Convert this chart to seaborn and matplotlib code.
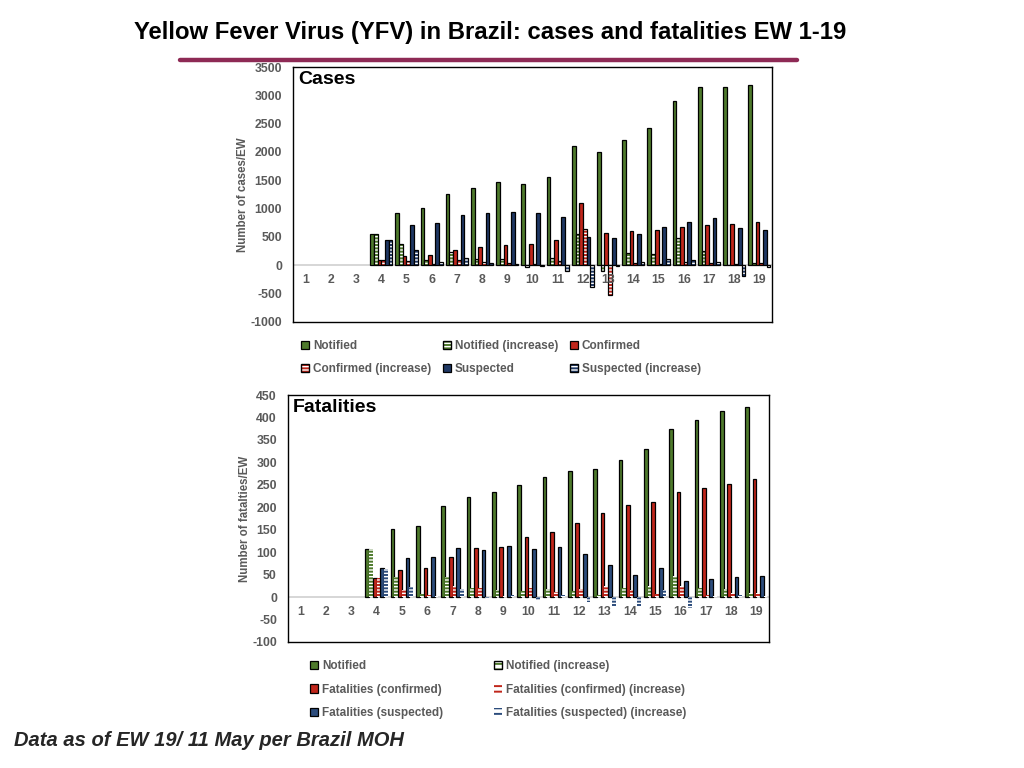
import numpy as np
import pandas as pd
import matplotlib
matplotlib.use("Agg")
import matplotlib.pyplot as plt
import matplotlib.colors as mcolors
import matplotlib.transforms as mtransforms
from matplotlib.patches import Patch
from matplotlib.lines import Line2D
import seaborn as sns

nan = np.nan
weeks = [str(i) for i in range(1, 20)]

# ---- Cases (per epidemiological week) ----
cases_series = ["Notified", "Notified (increase)", "Confirmed",
                "Confirmed (increase)", "Suspected", "Suspected (increase)"]
cases_notified = [nan, nan, nan, 550, 920, 1015, 1257, 1363, 1469, 1434, 1563, 2112, 2006, 2218, 2425, 2903, 3151, 3151, 3186]
cases_notified_inc = [nan, nan, nan, 550, 370, 95, 242, 106, 106, -35, 129, 549, -106, 212, 207, 478, 248, 5, 35]
cases_confirmed = [nan, nan, nan, 88, 160, 177, 265, 325, 360, 378, 448, 1097, 566, 602, 620, 673, 708, 726, 761]
cases_confirmed_inc = [nan, nan, nan, 88, 72, 17, 88, 60, 35, 18, 70, 649, -531, 36, 18, 53, 35, 18, 35]
cases_suspected = [nan, nan, nan, 445, 708, 743, 885, 920, 944, 920, 855, 501, 484, 555, 673, 761, 832, 655, 620]
cases_suspected_inc = [nan, nan, nan, 445, 263, 53, 124, 35, 24, -18, -94, -378, -17, 53, 118, 88, 53, -183, -35]

# ---- Fatalities ----
fat_series = ["Notified", "Notified (increase)", "Fatalities (confirmed)",
              "Fatalities (confirmed) (increase)", "Fatalities (suspected)",
              "Fatalities (suspected) (increase)"]
fat_notified = [nan, nan, nan, 108, 152, 159, 202, 222, 235, 249, 267, 280, 285, 305, 330, 374, 395, 415, 424]
fat_notified_inc = [nan, nan, nan, 108, 45, 7, 45, 20, 15, 13, 17, 13, 5, 20, 25, 47, 20, 18, 10]
fat_confirmed = [nan, nan, nan, 43, 60, 65, 90, 110, 112, 134, 146, 164, 188, 204, 211, 235, 242, 251, 262]
fat_confirmed_inc = [nan, nan, nan, 43, 16, 5, 25, 20, 2, 20, 11, 18, 25, 16, 7, 25, 5, 9, 10]
fat_suspected = [nan, nan, nan, 65, 88, 90, 110, 105, 114, 107, 112, 96, 72, 49, 65, 36, 40, 45, 47]
fat_suspected_inc = [nan, nan, nan, 62, 22, 2, 18, -3, 5, -7, 4, -12, -23, -22, 16, -25, 3, 5, 2]

GREEN = "#4E7A2C"
RED = "#C0261B"
NAVY = "#1F3864"
BLUE2 = "#2C4C7C"
GRAY = "#5A5A5A"
HATCH = "-----"

sns.set_theme(style="white")
plt.rcParams["font.family"] = ["Liberation Sans", "DejaVu Sans"]
plt.rcParams["hatch.linewidth"] = 1.4


def long_df(series_names, arrays):
    rows = []
    for name, arr in zip(series_names, arrays):
        for w, v in zip(weeks, arr):
            rows.append({"week": w, "series": name, "value": v})
    return pd.DataFrame(rows)


def set_hatch(p, color, edge, hatch=HATCH):
    p.set_facecolor("white")
    p.set_edgecolor(edge)
    p.set_hatch(hatch)
    if hasattr(p, "set_hatchcolor"):
        p.set_hatchcolor(color)
    else:
        p._hatch_color = mcolors.to_rgba(color)


fig = plt.figure(figsize=(10.24, 7.68), dpi=100)

# title + rule
fig.text(0.479, 1 - 32 / 768, "Yellow Fever Virus (YFV) in Brazil: cases and fatalities EW 1-19",
         ha="center", va="center", fontsize=17.2, fontweight="bold", color="black")
fig.add_artist(Line2D([180 / 1024, 797 / 1024], [1 - 60 / 768] * 2, color="#8E2A55", lw=3.2))
fig.text(14 / 1024, 1 - 741 / 768, "Data as of EW 19/ 11 May per Brazil MOH",
         ha="left", va="center", fontsize=14.5, fontweight="bold", fontstyle="italic")


def make_panel(rect, series_names, arrays, colors, hatched, hatch_edge, ylim, yticks,
               ylabel, panel_title):
    ax = fig.add_axes(rect)
    df = long_df(series_names, arrays)
    pal = {n: c for n, c in zip(series_names, colors)}
    sns.barplot(data=df, x="week", y="value", hue="series", order=weeks,
                hue_order=series_names, palette=pal, width=0.88, dodge=True,
                errorbar=None, saturation=1, legend=False, ax=ax,
                edgecolor="black", linewidth=0.9)
    for cont, name, c, h in zip(ax.containers, series_names, colors, hatched):
        for p in cont.patches:
            if h:
                set_hatch(p, c, hatch_edge[name])
    ax.axhline(0, color="#cfcfcf", lw=1.2, zorder=0.5)
    ax.set_ylim(*ylim)
    ax.set_xlim(-0.5, len(weeks) - 0.5)
    ax.set_yticks(yticks)
    ax.set_yticklabels([str(t) for t in yticks], fontsize=8.8, fontweight="bold", color=GRAY)
    ax.tick_params(axis="y", length=0, pad=8)
    ax.set_xticks([])
    ax.set_xlabel("")
    ax.set_ylabel(ylabel, fontsize=8.3, fontweight="bold", color=GRAY, labelpad=1)
    for s in ax.spines.values():
        s.set_visible(True)
        s.set_color("black")
        s.set_linewidth(1.0)
    tr = mtransforms.offset_copy(ax.transData, fig=fig, y=-15, units="dots")
    for i, w in enumerate(weeks):
        ax.text(i, 0, w, transform=tr, ha="center", va="center", fontsize=8.8,
                fontweight="bold", color=GRAY)
    ax.text(0.01, 0.95, panel_title, transform=ax.transAxes, ha="left", va="center",
            fontsize=14, fontweight="bold", color="black")
    return ax


# ---- top panel ----
top_colors = [GREEN, GREEN, RED, RED, NAVY, NAVY]
top_hatched = [False, True, False, True, False, True]
ax1 = make_panel([293 / 1024, 1 - 322 / 768, 479 / 1024, 255 / 768],
                 cases_series,
                 [cases_notified, cases_notified_inc, cases_confirmed,
                  cases_confirmed_inc, cases_suspected, cases_suspected_inc],
                 top_colors, top_hatched,
                 {n: "black" for n in cases_series},
                 (-1000, 3500), list(range(-1000, 3501, 500)),
                 "Number of cases/EW", "Cases")

# ---- bottom panel ----
bot_colors = [GREEN, GREEN, RED, RED, BLUE2, BLUE2]
bot_hatched = [False, True, False, True, False, True]
ax2 = make_panel([288 / 1024, 1 - 642 / 768, 481 / 1024, 247 / 768],
                 fat_series,
                 [fat_notified, fat_notified_inc, fat_confirmed,
                  fat_confirmed_inc, fat_suspected, fat_suspected_inc],
                 bot_colors, bot_hatched,
                 {n: "none" for n in fat_series},
                 (-100, 450), list(range(-100, 451, 50)),
                 "Number of fatalties/EW", "Fatalities")


def legend_handles(names, colors, hatched, edges, hatches):
    hs = []
    for n, c, h in zip(names, colors, hatched):
        if h:
            p = Patch(label=n)
            set_hatch(p, c, edges[n], hatches.get(n, HATCH))
        else:
            p = Patch(facecolor=c, edgecolor="black", linewidth=0.9, label=n)
        hs.append(p)
    return hs


LEG_PROP = {"size": 8.5, "weight": "bold"}

# top legend: 3 columns, row-major order
h1 = legend_handles(cases_series, top_colors, top_hatched,
                    {n: "black" for n in cases_series}, {})
order1 = [0, 3, 1, 4, 2, 5]
leg1 = fig.legend([h1[i] for i in order1], [cases_series[i] for i in order1],
                  loc="upper left", bbox_to_anchor=(301 / 1024, 1 - 340 / 768),
                  ncol=3, frameon=False, borderaxespad=0, borderpad=0,
                  handlelength=0.7, handleheight=0.7, handletextpad=0.3,
                  labelspacing=0.95, columnspacing=1.0, prop=LEG_PROP)
for t in leg1.get_texts():
    t.set_color(GRAY)

# bottom legend: 2 columns, row-major
bot_edges = {n: "none" for n in fat_series}
bot_edges["Notified (increase)"] = "black"
bot_hatches = {"Notified (increase)": "---",
               "Fatalities (confirmed) (increase)": "---",
               "Fatalities (suspected) (increase)": "---"}
h2 = legend_handles(fat_series, bot_colors, bot_hatched, bot_edges, bot_hatches)
order2 = [0, 2, 4, 1, 3, 5]
leg2 = fig.legend([h2[i] for i in order2], [fat_series[i] for i in order2],
                  loc="upper left", bbox_to_anchor=(310 / 1024, 1 - 660 / 768),
                  ncol=2, frameon=False, borderaxespad=0, borderpad=0,
                  handlelength=0.7, handleheight=0.7, handletextpad=0.3,
                  labelspacing=0.98, columnspacing=4.3, prop=LEG_PROP)
for t in leg2.get_texts():
    t.set_color(GRAY)

fig.savefig("out.png", dpi=100)
